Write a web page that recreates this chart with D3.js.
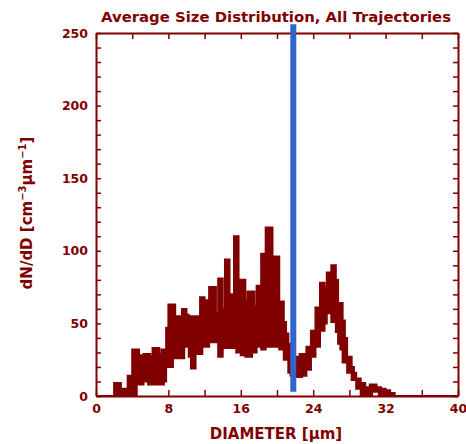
<!DOCTYPE html>
<html>
<head>
<meta charset="utf-8">
<script src="https://cdn.jsdelivr.net/npm/d3@7"></script>
<style>
  body { margin: 0; background: #fff; }
  text { font-family: "DejaVu Sans", sans-serif; font-weight: bold; fill: #800000; }
</style>
</head>
<body>
<script>
// size distribution, bins of 0.25 um starting at 0
const binWidth = 0.25

// upper edge of the noisy step trace (one row = 2 um)
const upper = [
  0, 0, 0, 0, 0, 0, 0, 0,
  9, 9, 9, 5, 5, 5, 14, 14,
  32, 32, 32, 28, 28, 29, 29, 29,
  27, 33, 33, 33, 29, 32, 32, 47,
  63, 63, 63, 55, 55, 55, 60, 60,
  56, 55, 55, 55, 55, 55, 68, 68,
  66, 66, 75, 75, 75, 57, 81, 81,
  60, 94, 94, 70, 70, 110, 110, 80,
  80, 80, 66, 72, 72, 72, 62, 76,
  76, 98, 98, 116, 116, 116, 96, 96,
  96, 65, 65, 51, 43, 36, 30, 27,
  27, 27, 29, 29, 29, 34, 34, 45,
  45, 61, 61, 78, 78, 75, 85, 85,
  90, 90, 80, 64, 64, 52, 40, 27,
  27, 20, 16, 12, 12, 9, 9, 6,
  6, 8, 8, 8, 6, 6, 5, 5,
  4, 4, 2, 2, 0, 0, 0, 0,
  0, 0, 0, 0, 0, 0, 0, 0,
  0, 0, 0, 0, 0, 0, 0, 0,
  0, 0, 0, 0, 0, 0, 0, 0
]

// lower edge of the trace
const lower = [
  0, 0, 0, 0, 0, 0, 0, 0,
  0, 0, 0, 0, 0, 0, 0, 0,
  0, 0, 8, 8, 8, 10, 10, 8,
  8, 8, 8, 8, 8, 8, 10, 20,
  20, 20, 26, 26, 26, 26, 26, 34,
  34, 27, 19, 19, 29, 29, 29, 34,
  34, 34, 37, 37, 37, 37, 27, 27,
  33, 33, 33, 33, 33, 33, 30, 30,
  28, 28, 27, 27, 27, 30, 30, 34,
  34, 32, 32, 34, 34, 34, 34, 34,
  34, 32, 32, 25, 25, 16, 14, 13,
  13, 13, 13, 14, 14, 18, 18, 27,
  27, 34, 34, 45, 45, 50, 57, 57,
  51, 51, 44, 36, 32, 23, 23, 16,
  16, 11, 11, 5, 5, 0, 0, 0,
  0, 0, 3, 3, 3, 0, 0, 0,
  0, 0, 0, 0, 0, 0, 0, 0,
  0, 0, 0, 0, 0, 0, 0, 0,
  0, 0, 0, 0, 0, 0, 0, 0,
  0, 0, 0, 0, 0, 0, 0, 0
]

// blue marker line
const markerD = 21.8
const markerRange = [3, 256]

// ticks
const xTicks = [0, 4, 8, 12, 16, 20, 24, 28, 32, 36, 40]
const xLabels = [0, 8, 16, 24, 32, 40]
const yTicks = [0, 10, 20, 30, 40, 50, 60, 70, 80, 90, 100, 110, 120, 130, 140, 150, 160, 170, 180, 190, 200, 210, 220, 230, 240, 250]
const yLabels = [0, 50, 100, 150, 200, 250]

const red = '#800000'
const m = { width: 466, height: 444, top: 33, right: 8, bottom: 48, left: 96 }

const svg = d3.select('body').append('svg')
    .attr('width', m.width)
    .attr('height', m.height)

const xScale = d3.scaleLinear()
    .domain([0, 40])
    .range([m.left, m.width - m.right])

const yScale = d3.scaleLinear()
    .domain([0, 250])
    .range([m.height - m.bottom, m.top])

// two corner points per bin so the band keeps flat steps on both edges
const steps = []
upper.forEach((v, i) => {
    const d0 = i * binWidth
    steps.push({ d: d0, hi: v, lo: lower[i] })
    steps.push({ d: d0 + binWidth, hi: v, lo: lower[i] })
})

const area = d3.area()
    .x(d => xScale(d.d))
    .y0(d => yScale(d.lo))
    .y1(d => yScale(d.hi))

svg.append('path')
    .datum(steps)
    .attr('d', area)
    .attr('fill', red)
    .attr('stroke', red)
    .attr('stroke-width', 2)
    .attr('stroke-linejoin', 'miter')

// axes, ticks point inward
const fmt = (labels) => (d => labels.includes(d) ? d : '')

const styleAxis = g => {
    g.select('.domain').attr('stroke', red).attr('stroke-width', 2)
    g.selectAll('.tick line').attr('stroke', red).attr('stroke-width', 1.5)
    g.selectAll('.tick text').attr('fill', red)
        .style('font-family', '"DejaVu Sans", sans-serif')
        .style('font-weight', 'bold')
        .style('font-size', '12.5px')
}

svg.append('g')
    .attr('transform', `translate(0,${m.height - m.bottom})`)
    .call(d3.axisBottom(xScale).tickValues(xTicks).tickFormat(fmt(xLabels))
        .tickSizeInner(-6).tickSizeOuter(0).tickPadding(8))
    .call(styleAxis)

svg.append('g')
    .attr('transform', `translate(0,${m.top})`)
    .call(d3.axisTop(xScale).tickValues(xTicks).tickFormat('')
        .tickSizeInner(-6).tickSizeOuter(0))
    .call(styleAxis)

svg.append('g')
    .attr('transform', `translate(${m.left},0)`)
    .call(d3.axisLeft(yScale).tickValues(yTicks).tickFormat(fmt(yLabels))
        .tickSizeInner(-5).tickSizeOuter(0).tickPadding(8))
    .call(styleAxis)

svg.append('g')
    .attr('transform', `translate(${m.width - m.right},0)`)
    .call(d3.axisRight(yScale).tickValues(yTicks).tickFormat('')
        .tickSizeInner(-5).tickSizeOuter(0))
    .call(styleAxis)

// blue marker
svg.append('line')
    .attr('x1', xScale(markerD))
    .attr('x2', xScale(markerD))
    .attr('y1', yScale(markerRange[0]))
    .attr('y2', yScale(markerRange[1]))
    .attr('stroke', '#3366cc')
    .attr('stroke-width', 6)

// title and axis labels
svg.append('text')
    .attr('x', 276)
    .attr('y', 22)
    .attr('text-anchor', 'middle')
    .attr('font-size', 14)
    .attr('textLength', 350)
    .attr('lengthAdjust', 'spacingAndGlyphs')
    .text('Average Size Distribution, All Trajectories')

svg.append('text')
    .attr('x', 276)
    .attr('y', 439)
    .attr('text-anchor', 'middle')
    .attr('font-size', 15)
    .text('DIAMETER [μm]')

const yLab = svg.append('text')
    .attr('transform', `translate(32,213)rotate(-90)`)
    .attr('text-anchor', 'middle')
    .attr('font-size', 15)
yLab.append('tspan').text('dN/dD [cm')
yLab.append('tspan').attr('dy', -6).attr('font-size', 10).text('−3')
yLab.append('tspan').attr('dy', 6).text('μm')
yLab.append('tspan').attr('dy', -6).attr('font-size', 10).text('−1')
yLab.append('tspan').attr('dy', 6).text(']')
</script>
</body>
</html>
